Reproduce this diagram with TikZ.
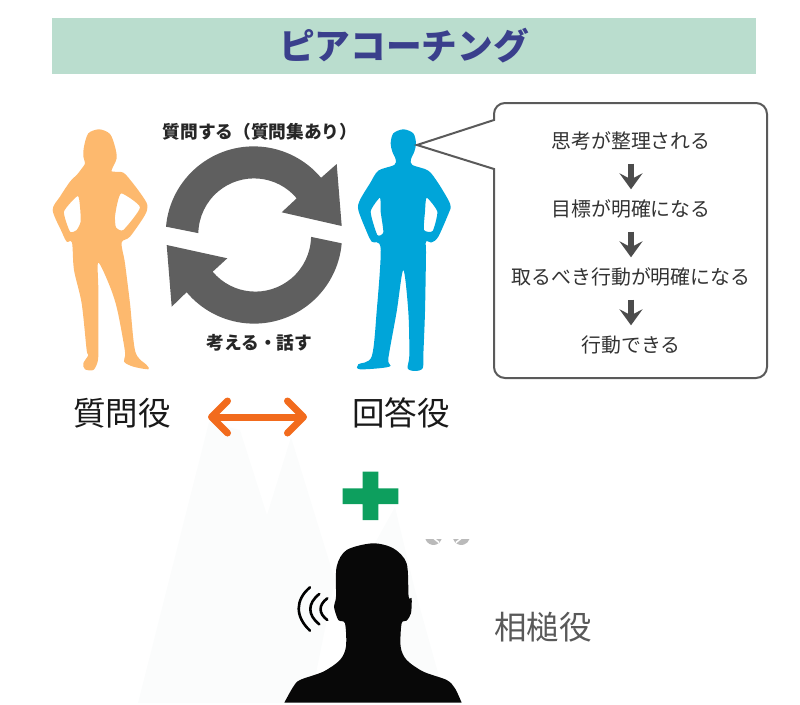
\documentclass[tikz,border=0pt]{standalone}
\usepackage{fontspec}
\setmainfont{Noto Sans CJK JP}
\usetikzlibrary{arrows.meta}
\definecolor{bandgreen}{HTML}{BADDCE}
\definecolor{titleblue}{HTML}{3A3F8C}
\definecolor{womanorange}{HTML}{FDB96E}
\definecolor{manblue}{HTML}{00A5D9}
\definecolor{ringgray}{HTML}{5F5F5F}
\definecolor{boxgray}{HTML}{5A5A5A}
\definecolor{arroworange}{HTML}{F26B1D}
\definecolor{plusgreen}{HTML}{0D9F5E}
\definecolor{palefill}{HTML}{FBFCFC}
\tikzset{
  looptext/.style={font=\fontsize{17.7}{18}\selectfont\bfseries,text=black!85},
  roletext/.style={font=\fontsize{32.5}{33}\selectfont,text=black!90},
  steptext/.style={font=\fontsize{19.9}{20}\selectfont,text=black!80,minimum height=26pt,inner sep=0pt},
  steparrow/.style={line width=6pt,black!70,-{Stealth[length=16pt,width=23pt,inset=6pt]},shorten >=6pt,shorten <=10pt},
}
\begin{document}
\begin{tikzpicture}[x=1pt,y=-1pt]
  \useasboundingbox (0,0) rectangle (800,704);
  % Background shapes
  \fill[palefill] (138,703) -- (209,422) -- (240,430) -- (267,515) -- (291,437) -- (335,580) -- (310,703) -- cycle;
  \fill[palefill] (375,543) -- (395,507) -- (415,590) -- (440,680) -- (420,703) -- (375,703) -- cycle;
  % Title
  \node[fill=bandgreen,minimum width=704pt,minimum height=56pt,inner sep=0pt,font=\fontsize{35.7}{36}\selectfont\bfseries,text=titleblue] (title) at (404,46) {\raisebox{1.5pt}{ピアコーチング}};
  % Woman
  \begin{scope}[shift={(30,90)},x=0.3333pt,y=-0.3333pt]
    \fill[womanorange,even odd rule] plot[smooth cycle,tension=0.5] coordinates {(208,118) (240,132) (255,170) (260,205) (245,240) (250,245) (280,248) (305,275) (335,315) (352,345) (345,375) (300,440) (275,458) (285,520) (300,640) (316,785) (350,825) (355,838) (310,830) (282,815) (285,785) (262,660) (240,590) (205,518) (205,600) (205,780) (203,815) (190,840) (165,838) (160,820) (175,795) (170,780) (155,640) (132,540) (126,458) (110,455) (95,425) (68,360) (90,320) (120,275) (140,255) (152,240) (165,220) (160,200) (162,170) (175,130)}
      plot[smooth cycle,tension=0.35] coordinates {(143,318) (102,365) (120,425) (140,420) (152,395) (150,350)}
      plot[smooth cycle,tension=0.35] coordinates {(275,310) (330,352) (280,420) (258,412) (255,380) (262,340)};
  \end{scope}
  % Man
  \begin{scope}[shift={(340,95)},x=0.3333pt,y=-0.3333pt]
    \fill[manblue,even odd rule] plot[smooth cycle,tension=0.5] coordinates {(190,103) (220,115) (228,145) (223,170) (213,193) (217,210) (265,227) (295,265) (325,315) (332,335) (328,350) (295,425) (275,442) (258,440) (258,480) (255,650) (250,780) (248,820) (225,828) (203,820) (208,780) (205,650) (190,525) (170,650) (145,790) (148,815) (60,823) (55,808) (95,785) (110,650) (122,460) (95,440) (80,410) (55,345) (60,315) (90,265) (115,227) (163,210) (167,193) (157,170) (152,145) (160,115)}
      plot[smooth cycle,tension=0.35] coordinates {(120,308) (92,350) (112,420) (130,412) (122,350)}
      plot[smooth cycle,tension=0.35] coordinates {(260,308) (292,350) (278,408) (252,405) (255,350)};
  \end{scope}
  % Ring
  \fill[ringgray] (166,226.7) arc[start angle=175,end angle=40,radius=88pt] -- (336.7,164) -- (341.7,226) -- (281.7,212.3) -- (296.7,198.3) arc[start angle=40,end angle=179,radius=55.7pt] -- cycle;
  \fill[ringgray] (341.7,243.3) arc[start angle=-5,end angle=-140,radius=88pt] -- (171.7,306.7) -- (166.7,245) -- (227.3,258.3) -- (212.7,271.7) arc[start angle=-140,end angle=-1,radius=55.7pt] -- cycle;
  \node[looptext] (ask) at (260,132) {質問する（質問集あり）};
  \node[looptext] (talk) at (259.5,343) {考える・話す};
  % Bubble
  \draw[boxgray,line width=2pt,fill=white] (494,120) -- (417,145) -- (494,169) {[rounded corners=11pt] -- (494,378) -- (767,378) -- (767,103) -- (494,103)} -- cycle;
  \node[steptext] (think) at (631,140.5) {思考が整理される};
  \node[steptext] (goal) at (631,208.5) {目標が明確になる};
  \node[steptext] (plan) at (631,276.5) {取るべき行動が明確になる};
  \node[steptext] (act) at (631,344.5) {行動できる};
  \draw[steparrow] (think) -- (goal);
  \draw[steparrow] (goal) -- (plan);
  \draw[steparrow] (plan) -- (act);
  % Roles
  \node[roletext] (asker) at (122,413) {質問役};
  \node[roletext] (answerer) at (401,413) {回答役};
  \node[roletext,text=black!65] (listener) at (543,627) {相槌役};
  \coordinate (pairL) at (208,417);
  \coordinate (pairR) at (307,417);
  \draw[arroworange,line width=7pt,line cap=round,{Straight Barb[round,length=16pt,width=32pt]}-{Straight Barb[round,length=16pt,width=32pt]}] (pairL) -- (pairR);
  % Plus
  \fill[plusgreen] (362.7,471.7) rectangle (378.3,520) (342.7,488.3) rectangle (398.3,504);
  % Stray buttons
  \fill[black!27] (425.4,539) arc[start angle=197,end angle=343,radius=8.5pt] -- cycle;
  \fill[black!27] (453.2,539) arc[start angle=197,end angle=343,radius=8.5pt] -- cycle;
  \draw[white,line width=1.5pt] (434,538.5) -- (439,542.5);
  \draw[white,line width=1.5pt] (461,538.5) -- (456,542.5);
  % Listener
  \begin{scope}[shift={(130,390)},x=0.3333pt,y=-0.3333pt]
    \fill[black!97] plot[smooth,tension=0.5] coordinates {(995,938) (975,895) (950,870) (880,845) (830,810) (812,770) (815,700) (830,692) (843,670) (845,625) (836,620) (830,520) (790,475) (728,460) (650,480) (620,530) (618,622) (612,650) (625,690) (645,700) (648,770) (630,810) (580,845) (510,870) (490,890) (463,938)} -- cycle;
    \draw[black,line width=2.6pt,line cap=round] (540,592) .. controls (495,630) and (495,680) .. (540,722);
    \draw[black,line width=2.6pt,line cap=round] (568,612) .. controls (532,640) and (532,675) .. (568,703);
    \draw[black,line width=2.6pt,line cap=round] (592,625) .. controls (565,645) and (565,670) .. (592,690);
  \end{scope}
\end{tikzpicture}
\end{document}
